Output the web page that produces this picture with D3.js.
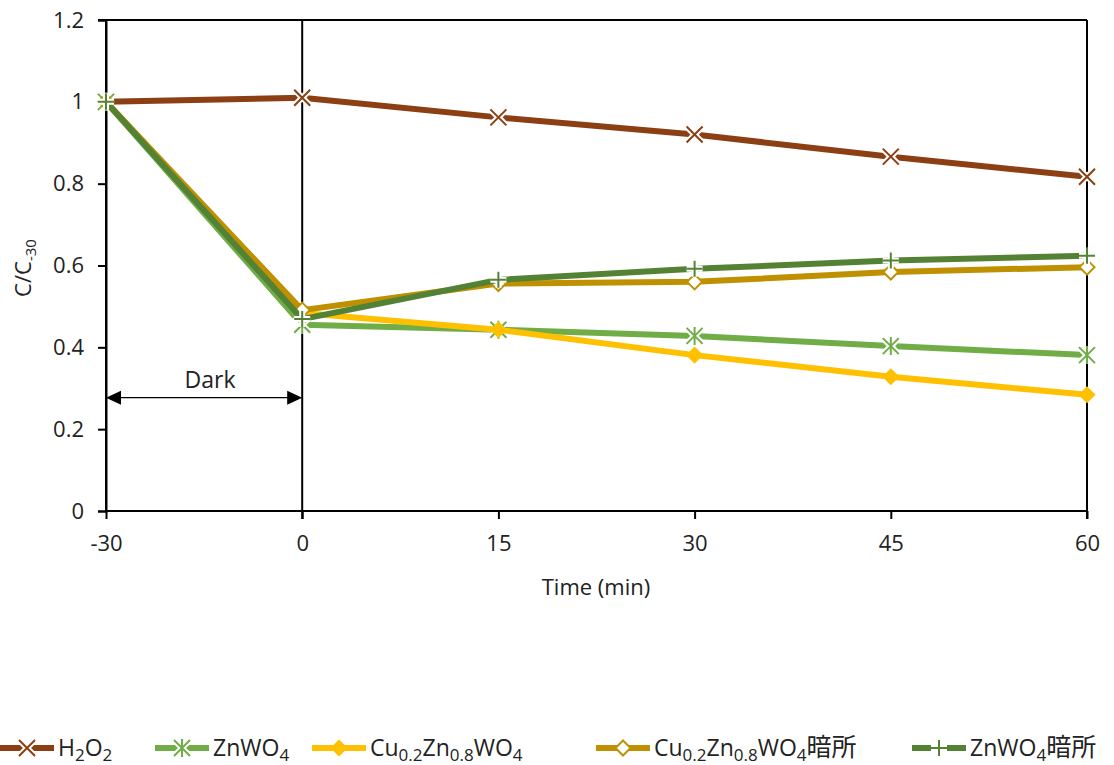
<!DOCTYPE html>
<html><head><meta charset="utf-8">
<script src="https://cdn.jsdelivr.net/npm/d3@7"></script>
<style>
body{margin:0;background:#fff;}
text{font-family:"Open Sans","Lato",sans-serif;fill:#222;}
</style></head>
<body><svg id="c" width="1114" height="765"></svg>
<script>
const categories = ["-30","0","15","30","45","60"];
const yTicks = [0,0.2,0.4,0.6,0.8,1,1.2];
const h2o2 = [1.0,1.01,0.962,0.92,0.866,0.817];
const znwo4 = [1.0,0.455,0.443,0.428,0.403,0.381];
const cuzn = [1.0,0.484,0.443,0.381,0.328,0.284];
const cuznDark = [1.0,0.491,0.556,0.56,0.584,0.596];
const znwo4Dark = [1.0,0.469,0.565,0.592,0.612,0.624];
const seriesNames = ["H2O2","ZnWO4","Cu0.2Zn0.8WO4","Cu0.2Zn0.8WO4暗所","ZnWO4暗所"];

const svg = d3.select("#c");
const L=106,R=1087,T=20,B=511;
const x = d3.scalePoint().domain(categories).range([L,R]).padding(0);
const y = d3.scaleLinear().domain([0,1.2]).range([B,T]);

const series = [
  {name:seriesNames[0], vals:h2o2, color:"#8B3F12", marker:"x"},
  {name:seriesNames[1], vals:znwo4, color:"#70AD47", marker:"star"},
  {name:seriesNames[2], vals:cuzn, color:"#FFC000", marker:"diamond"},
  {name:seriesNames[3], vals:cuznDark, color:"#BF9000", marker:"odiamond"},
  {name:seriesNames[4], vals:znwo4Dark, color:"#548235", marker:"plus"}
];

// frame
const g = svg.append("g");
g.append("line").attr("x1",L-8).attr("x2",R).attr("y1",T).attr("y2",T).attr("stroke","#000").attr("stroke-width",2);
g.append("line").attr("x1",L).attr("x2",L).attr("y1",T).attr("y2",B).attr("stroke","#000").attr("stroke-width",2);
g.append("line").attr("x1",R).attr("x2",R).attr("y1",T).attr("y2",B+8).attr("stroke","#000").attr("stroke-width",2);
g.append("line").attr("x1",x("0")).attr("x2",x("0")).attr("y1",T).attr("y2",B+8).attr("stroke","#000").attr("stroke-width",2);

// axes
const yAxis = d3.axisLeft(y).tickValues(yTicks).tickSize(8).tickPadding(14).tickFormat(d=>String(d));
const ya = svg.append("g").attr("transform",`translate(${L},0)`).call(yAxis);
ya.select(".domain").attr("stroke","#000").attr("stroke-width",2);
ya.selectAll(".tick line").attr("stroke","#000").attr("stroke-width",2);
ya.selectAll(".tick text").style("font-size","22px").attr("fill","#222");

const xAxis = d3.axisBottom(x).tickSize(8).tickPadding(16);
const xa = svg.append("g").attr("transform",`translate(0,${B})`).call(xAxis);
xa.select(".domain").attr("stroke","#000").attr("stroke-width",2).attr("d",`M${L},0H${R}`);
xa.selectAll(".tick line").attr("stroke","#000").attr("stroke-width",2);
xa.selectAll(".tick text").style("font-size","22px").attr("fill","#222");

// axis titles
svg.append("text").attr("x",596).attr("y",595).attr("text-anchor","middle").style("font-size","22px").text("Time (min)");
const yl = svg.append("text").attr("transform","translate(31,268) rotate(-90)").attr("text-anchor","middle").style("font-size","22px");
yl.append("tspan").text("C/C");
yl.append("tspan").attr("dy",5).style("font-size","15px").text("-30");

// dark annotation
const ay = y(0.277);
svg.append("line").attr("x1",L+14).attr("x2",x("0")-14).attr("y1",ay).attr("y2",ay).attr("stroke","#000").attr("stroke-width",1.3);
svg.append("path").attr("d",`M${L},${ay}l15,-7v14z`).attr("fill","#000");
svg.append("path").attr("d",`M${x("0")},${ay}l-15,-7v14z`).attr("fill","#000");
svg.append("text").attr("x",(L+x("0"))/2+6).attr("y",ay-10).attr("text-anchor","middle").style("font-size","23px").text("Dark");

function drawMarker(sel, type, color, cx, cy){
  const gg = sel.append("g").attr("transform",`translate(${cx},${cy})`);
  const s = 8;
  let d;
  if(type==="x") d=`M${-s},${-s}L${s},${s}M${-s},${s}L${s},${-s}`;
  else if(type==="plus") d=`M${-s},0H${s}M0,${-s}V${s}`;
  else if(type==="star") d=`M${-s},${-s}L${s},${s}M${-s},${s}L${s},${-s}M0,${-s-1}V${s+1}`;
  if(d){
    gg.append("path").attr("d",d).attr("stroke","#fff").attr("stroke-width",6).attr("fill","none");
    gg.append("path").attr("d",d).attr("stroke",color).attr("stroke-width",2).attr("fill","none");
  } else {
    const r=7.5;
    const dd=`M0,${-r}L${r},0L0,${r}L${-r},0Z`;
    if(type==="diamond"){
      gg.append("path").attr("d",dd).attr("fill",color).attr("stroke",color).attr("stroke-width",1.5);
    } else {
      gg.append("path").attr("d",dd).attr("fill","#fff").attr("stroke",color).attr("stroke-width",2);
    }
  }
}

const line = d3.line().x((d,i)=>x(categories[i])).y(d=>y(d));
series.forEach(s=>{
  svg.append("path").datum(s.vals).attr("d",line).attr("fill","none")
    .attr("stroke",s.color).attr("stroke-width",6).attr("stroke-linejoin","round");
  s.vals.forEach((v,i)=>drawMarker(svg,s.marker,s.color,x(categories[i]),y(v)));
});

// legend
const legY = 748;
const legX = [0,155,312,596,912];
function addLabel(t, name){
  const sub = (txt)=>t.append("tspan").attr("dy",5).style("font-size","17px").text(txt);
  const norm = (txt)=>t.append("tspan").attr("dy",-5).text(txt);
  const cjk = ()=>t.append("tspan").attr("dy",-5).style("font-family","'Noto Sans CJK JP'").style("font-size","25px").text("暗所");
  if(name==="H2O2"){ t.append("tspan").text("H"); sub("2"); norm("O"); sub("2"); }
  else if(name==="ZnWO4"){ t.append("tspan").text("ZnWO"); sub("4"); }
  else if(name.startsWith("Cu")){
    t.append("tspan").text("Cu"); sub("0.2"); norm("Zn"); sub("0.8"); norm("WO"); sub("4");
    if(name.endsWith("暗所")) cjk();
  } else {
    t.append("tspan").text("ZnWO"); sub("4"); cjk();
  }
}
series.forEach((s,i)=>{
  const lx = legX[i];
  const lg = svg.append("g");
  lg.append("line").attr("x1",lx).attr("x2",lx+54).attr("y1",legY).attr("y2",legY).attr("stroke",s.color).attr("stroke-width",6);
  drawMarker(lg,s.marker,s.color,lx+27,legY);
  const t = lg.append("text").attr("x",lx+58).attr("y",legY+8).style("font-size","23px");
  addLabel(t,s.name);
});
</script></body></html>
